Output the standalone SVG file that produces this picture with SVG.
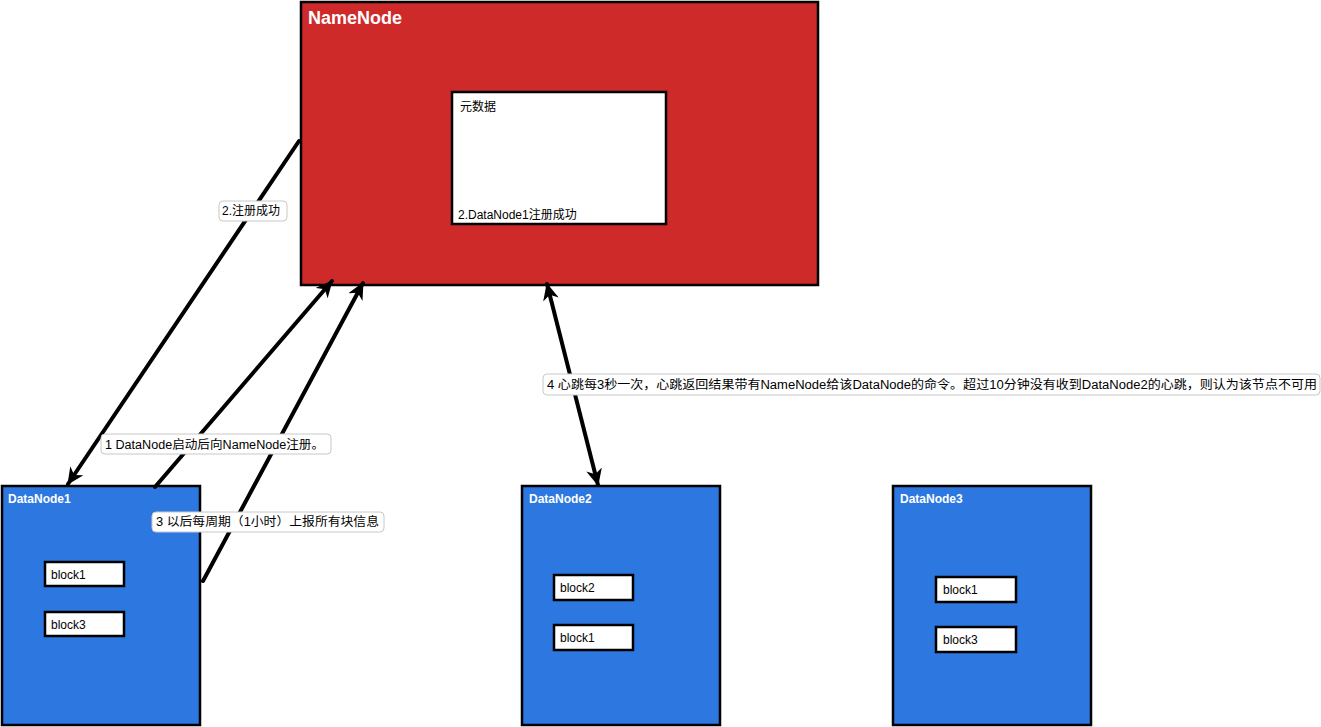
<svg xmlns="http://www.w3.org/2000/svg" width="1321" height="727" viewBox="0 0 1321 727">
<style>
text{font-family:"Liberation Sans","Noto Sans CJK SC",sans-serif;font-size:12px;fill:#000}
.title{fill:#fff;font-weight:bold}
.big{font-size:18px}
.node-name{fill:#ce2a29;stroke:#000;stroke-width:2.5}
.node-data{fill:#2c78e0;stroke:#000;stroke-width:2.5}
.box{fill:#fff;stroke:#000;stroke-width:2.5}
.conn{stroke:#000;stroke-width:4;fill:none;stroke-linecap:round}
.lbl{fill:#fff;stroke:#c8c8c8;stroke-width:1}
</style>
<defs>
<marker id="ah" markerUnits="userSpaceOnUse" markerWidth="18" markerHeight="16" viewBox="0 0 18 16" refX="16" refY="8" orient="auto-start-reverse">
<path d="M0,0 L17,8 L0,16 L5,8 z" fill="#000"/>
</marker>
</defs>
<rect width="1321" height="727" fill="#fff"/>
<g id="namenode">
<rect class="node-name" x="301" y="2" width="517" height="283"/>
<text class="title big" x="308" y="24">NameNode</text>
<rect class="box" x="452" y="92" width="214" height="132"/>
<text x="460" y="111">元数据</text>
<text x="458" y="219">2.DataNode1注册成功</text>
</g>
<g id="datanode1">
<rect class="node-data" x="2" y="486" width="198" height="239"/>
<text class="title" x="8" y="503">DataNode1</text>
<rect class="box" x="45" y="562" width="79" height="24"/>
<text x="51" y="579">block1</text>
<rect class="box" x="45" y="612" width="79" height="24"/>
<text x="51" y="629">block3</text>
</g>
<g id="datanode2">
<rect class="node-data" x="522" y="486" width="198" height="239"/>
<text class="title" x="529" y="503">DataNode2</text>
<rect class="box" x="554" y="575" width="79" height="25"/>
<text x="560" y="592">block2</text>
<rect class="box" x="554" y="625" width="79" height="25"/>
<text x="560" y="642">block1</text>
</g>
<g id="datanode3">
<rect class="node-data" x="893" y="486" width="198" height="239"/>
<text class="title" x="900" y="503">DataNode3</text>
<rect class="box" x="936" y="577" width="80" height="25"/>
<text x="943" y="594">block1</text>
<rect class="box" x="936" y="627" width="80" height="25"/>
<text x="943" y="644">block3</text>
</g>
<g id="connectors">
<line class="conn" x1="299" y1="141" x2="68" y2="484" marker-end="url(#ah)"/>
<line class="conn" x1="155" y1="487" x2="332" y2="281" marker-end="url(#ah)"/>
<line class="conn" x1="203" y1="581" x2="363" y2="283" marker-end="url(#ah)"/>
<line class="conn" x1="547" y1="284" x2="598" y2="485" marker-start="url(#ah)" marker-end="url(#ah)"/>
<rect class="lbl" x="219" y="201" width="68" height="20" rx="4"/>
<text x="222" y="215">2.注册成功</text>
<rect class="lbl" x="101" y="434" width="230" height="20" rx="4"/>
<text x="105" y="449" textLength="219" lengthAdjust="spacingAndGlyphs">1 DataNode启动后向NameNode注册。</text>
<rect class="lbl" x="152" y="512" width="232" height="20" rx="4"/>
<text x="156" y="526" textLength="223" lengthAdjust="spacingAndGlyphs">3 以后每周期（1小时）上报所有块信息</text>
<rect class="lbl" x="543" y="374" width="777" height="21" rx="4"/>
<text x="547" y="389" textLength="770" lengthAdjust="spacingAndGlyphs">4 心跳每3秒一次，心跳返回结果带有NameNode给该DataNode的命令。超过10分钟没有收到DataNode2的心跳，则认为该节点不可用</text>
</g>
</svg>
